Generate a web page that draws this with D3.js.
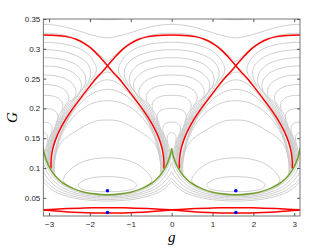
<!DOCTYPE html>
<html>
<head>
<meta charset="utf-8" />
<script src="https://cdn.jsdelivr.net/npm/d3@7/dist/d3.min.js"></script>
<style>
  body { margin: 0; background: #fff; }
  svg .gray { fill: none; stroke: #c9c9c9; stroke-width: 0.9px; }
  svg .red { fill: none; stroke: #ff0000; stroke-width: 1.5px; }
  svg .green { fill: none; stroke: #77a032; stroke-width: 1.6px; }
  svg .dot { fill: #0000ff; }
  svg .tick text { font-family: "Liberation Sans", Arial, sans-serif; font-size: 8px; fill: #262626; }
  svg .tick line { stroke: #555; }
</style>
</head>
<body>
<div id="chart"></div>
<script>
// axis ticks
var gTicks = [-3, -2, -1, 0, 1, 2, 3];
var GTicks = [0.05, 0.1, 0.15, 0.2, 0.25, 0.3, 0.35];

// equilibria (blue points)
var centers = [[-1.571, 0.0618], [1.571, 0.0618], [-1.571, 0.0254], [1.571, 0.0254]];

// half curves read in the quarter g in [-pi/2, 0], the rest is mirrored
var greenHalf = [[-1.571, 0.0550], [-1.3, 0.0562], [-1.0, 0.0595], [-0.75, 0.0650], [-0.5, 0.0740],
  [-0.35, 0.0825], [-0.25, 0.0905], [-0.15, 0.1010], [-0.08, 0.1120], [-0.03, 0.1230], [0, 0.1330]];

var redUpperHalf = [[-1.571, 0.2717], [-1.4, 0.2850], [-1.2, 0.2990], [-1.0, 0.3090], [-0.8, 0.3160],
  [-0.6, 0.3200], [-0.4, 0.3220], [-0.2, 0.3228], [0, 0.3230]];

var redLowerHalf = [[-1.571, 0.2717], [-1.45, 0.2620], [-1.3, 0.2510], [-1.1, 0.2340], [-0.9, 0.2160],
  [-0.7, 0.1975], [-0.55, 0.1820], [-0.42, 0.1660], [-0.32, 0.1510], [-0.25, 0.1370], [-0.21, 0.1240],
  [-0.19, 0.1110], [-0.19, 0.0990]];

var lensUpperHalf = [[-1.571, 0.0334], [-1.2, 0.0332], [-0.9, 0.0327], [-0.6, 0.0320], [-0.3, 0.0310], [0, 0.0299]];
var lensLowerHalf = [[-1.571, 0.0244], [-1.2, 0.0246], [-0.9, 0.0252], [-0.6, 0.0262], [-0.3, 0.0278], [0, 0.0297]];

// gray contours
var topCurveHalf = [[-1.571, 0.3185], [-1.35, 0.3205], [-1.1, 0.3250], [-0.8, 0.3315], [-0.5, 0.3370], [-0.25, 0.3400], [0, 0.3410]];
var topArcHalf = [[-1.571, 0.3487], [-1.35, 0.3493], [-1.15, 0.3505], [-0.9, 0.3530]];
var aboveXHalf = [[-1.571, 0.2790], [-1.45, 0.2855], [-1.3, 0.2945], [-1.1, 0.3065], [-0.9, 0.3140],
  [-0.7, 0.3195], [-0.5, 0.3230], [-0.3, 0.3250], [0, 0.3262]];

var ovalInner = [[-1.571, 0.0855], [-1.3, 0.0847], [-1.1, 0.0820], [-0.95, 0.0780], [-0.86, 0.0720],
  [-0.9, 0.0665], [-1.05, 0.0628], [-1.3, 0.0608], [-1.571, 0.0603]];

var ovalArcs = [
  [[-1.571, 0.117], [-1.2, 0.1150], [-0.9, 0.1085], [-0.68, 0.0985], [-0.53, 0.0870], [-0.49, 0.0790], [-0.56, 0.0718]],
  [[-1.571, 0.1805], [-1.3, 0.1790], [-1.05, 0.1720], [-0.8, 0.1620], [-0.6, 0.1530], [-0.45, 0.1440], [-0.35, 0.1320], [-0.29, 0.1180], [-0.27, 0.1040], [-0.28, 0.0890]],
  [[-1.571, 0.213], [-1.35, 0.2115], [-1.15, 0.2070], [-0.95, 0.1990], [-0.78, 0.1890], [-0.62, 0.1760], [-0.5, 0.1630], [-0.4, 0.1480], [-0.33, 0.1320], [-0.29, 0.1170], [-0.26, 0.1020], [-0.26, 0.0925]],
  [[-1.571, 0.232], [-1.38, 0.2300], [-1.2, 0.2250], [-1.0, 0.2150], [-0.82, 0.2020], [-0.66, 0.1870], [-0.53, 0.1710], [-0.42, 0.1540], [-0.34, 0.1370], [-0.29, 0.1210], [-0.25, 0.1050], [-0.24, 0.0940]],
  [[-1.571, 0.248], [-1.42, 0.2460], [-1.25, 0.2390], [-1.05, 0.2260], [-0.86, 0.2100], [-0.69, 0.1930], [-0.55, 0.1760], [-0.44, 0.1590], [-0.35, 0.1420], [-0.29, 0.1260], [-0.24, 0.1090], [-0.22, 0.0960]],
  [[-1.571, 0.261], [-1.45, 0.2580], [-1.3, 0.2490], [-1.1, 0.2330], [-0.9, 0.2150], [-0.72, 0.1970], [-0.57, 0.1800], [-0.45, 0.1630], [-0.36, 0.1470], [-0.29, 0.1310], [-0.24, 0.1150], [-0.21, 0.1000]]
];

// arches over g = 0, ending on the green curve
var capCurves = [
  [[0, 0.311], [-0.3, 0.3100], [-0.55, 0.3075], [-0.8, 0.3030], [-1.0, 0.2960], [-1.15, 0.2870], [-1.25, 0.2770], [-1.3, 0.2670], [-1.28, 0.2580], [-1.2, 0.2500], [-0.99, 0.23], [-0.79, 0.21], [-0.60, 0.19], [-0.425, 0.17], [-0.295, 0.15], [-0.21, 0.13], [-0.178, 0.115], [-0.165, 0.0995]],
  [[0, 0.2985], [-0.3, 0.2975], [-0.55, 0.2945], [-0.8, 0.2890], [-0.98, 0.2820], [-1.1, 0.2730], [-1.16, 0.2630], [-1.15, 0.2530], [-1.08, 0.2420], [-0.93, 0.23], [-0.75, 0.21], [-0.57, 0.19], [-0.405, 0.17], [-0.278, 0.15], [-0.195, 0.13], [-0.163, 0.115], [-0.15, 0.101]],
  [[0, 0.285], [-0.3, 0.2840], [-0.55, 0.2805], [-0.78, 0.2745], [-0.93, 0.2660], [-1.02, 0.2560], [-1.04, 0.2460], [-0.99, 0.2360], [-0.90, 0.228], [-0.71, 0.21], [-0.54, 0.19], [-0.385, 0.17], [-0.262, 0.15], [-0.182, 0.13], [-0.15, 0.115], [-0.135, 0.1027]],
  [[0, 0.271], [-0.3, 0.2700], [-0.52, 0.2665], [-0.72, 0.2605], [-0.86, 0.2520], [-0.93, 0.2420], [-0.92, 0.2320], [-0.84, 0.2220], [-0.67, 0.21], [-0.51, 0.19], [-0.365, 0.17], [-0.246, 0.15], [-0.168, 0.13], [-0.137, 0.115], [-0.12, 0.1045]],
  [[0, 0.256], [-0.28, 0.2550], [-0.48, 0.2515], [-0.65, 0.2455], [-0.76, 0.2370], [-0.80, 0.2270], [-0.76, 0.2180], [-0.62, 0.21], [-0.48, 0.19], [-0.345, 0.17], [-0.23, 0.15], [-0.155, 0.13], [-0.123, 0.115], [-0.105, 0.1065]],
  [[0, 0.240], [-0.25, 0.2390], [-0.42, 0.2355], [-0.55, 0.2295], [-0.62, 0.2215], [-0.62, 0.2140], [-0.55, 0.2060], [-0.44, 0.19], [-0.32, 0.17], [-0.21, 0.15], [-0.14, 0.13], [-0.11, 0.115], [-0.09, 0.1095]],
  [[0, 0.222], [-0.22, 0.2210], [-0.36, 0.2175], [-0.45, 0.2115], [-0.48, 0.2040], [-0.45, 0.1960], [-0.39, 0.19], [-0.29, 0.17], [-0.19, 0.15], [-0.125, 0.13], [-0.097, 0.115], [-0.075, 0.1128]],
  [[0, 0.200], [-0.18, 0.1990], [-0.29, 0.1955], [-0.35, 0.1895], [-0.36, 0.1820], [-0.34, 0.1760], [-0.29, 0.1680], [-0.22, 0.1580], [-0.16, 0.15], [-0.105, 0.13], [-0.075, 0.118], [-0.06, 0.1162]],
  [[0, 0.177], [-0.12, 0.1760], [-0.19, 0.1725], [-0.22, 0.1665], [-0.2, 0.1585], [-0.15, 0.15], [-0.11, 0.14], [-0.08, 0.13], [-0.055, 0.122], [-0.045, 0.1195]],
  [[0, 0.159], [-0.06, 0.1580], [-0.1, 0.1545], [-0.11, 0.1490], [-0.095, 0.1420], [-0.07, 0.1350], [-0.05, 0.1285], [-0.03, 0.123]]
];

// curves under the green curve, peaking below the cusp
var underCurves = [
  [[-1.571, 0.0535], [-1.3, 0.0544], [-1.0, 0.0573], [-0.75, 0.0622], [-0.5, 0.0705], [-0.35, 0.0780], [-0.25, 0.0850], [-0.15, 0.0945], [-0.08, 0.1040], [-0.03, 0.1150], [0, 0.127]],
  [[-1.571, 0.0515], [-1.3, 0.0524], [-1.0, 0.0548], [-0.75, 0.0590], [-0.5, 0.0660], [-0.35, 0.0725], [-0.25, 0.0790], [-0.15, 0.0870], [-0.08, 0.0950], [-0.03, 0.1030], [0, 0.110]],
  [[-1.571, 0.0495], [-1.3, 0.0503], [-1.0, 0.0524], [-0.75, 0.0560], [-0.5, 0.0618], [-0.35, 0.0672], [-0.25, 0.0725], [-0.15, 0.0790], [-0.08, 0.0850], [-0.03, 0.0900], [0, 0.094]],
  [[-1.571, 0.0470], [-1.3, 0.0477], [-1.0, 0.0495], [-0.75, 0.0527], [-0.5, 0.0577], [-0.35, 0.0622], [-0.25, 0.0665], [-0.15, 0.0720], [-0.08, 0.0765], [-0.03, 0.0805], [0, 0.083]],
  [[-1.571, 0.0445], [-1.3, 0.0452], [-1.0, 0.0468], [-0.75, 0.0497], [-0.5, 0.0543], [-0.35, 0.0583], [-0.25, 0.0620], [-0.15, 0.0670], [-0.08, 0.0715], [-0.03, 0.0750], [0, 0.077]]
];

var width = 332, height = 249;
var PI = Math.PI;

var x = d3.scaleLinear().domain([-PI, PI]).range([43.3, 300]);
var y = d3.scaleLinear().domain([0.0195, 0.35]).range([216, 19]);

// helpers to mirror / shift the half curves
function mirror(pts, c) { return pts.map(function(p) { return [2 * c - p[0], p[1]]; }); }
function shift(pts, d) { return pts.map(function(p) { return [p[0] + d, p[1]]; }); }
function symFirst(h) { return mirror(h, h[0][0]).reverse().concat(h.slice(1)); }
function symLast(h) { return h.concat(mirror(h, h[h.length - 1][0]).reverse().slice(1)); }
function periodic(h) {
  var one = symFirst(h), out = [];
  [-1, 0, 1, 2].forEach(function(k) {
    var s = shift(one, k * PI);
    out = out.length ? out.concat(s.slice(1)) : s;
  });
  return out;
}

var line = d3.line()
  .x(function(d) { return x(d[0]); })
  .y(function(d) { return y(d[1]); })
  .curve(d3.curveCatmullRom.alpha(0.5));
var closedLine = d3.line()
  .x(function(d) { return x(d[0]); })
  .y(function(d) { return y(d[1]); })
  .curve(d3.curveCatmullRomClosed.alpha(0.5));

var svg = d3.select("#chart").append("svg")
  .attr("width", width)
  .attr("height", height);

svg.append("defs").append("clipPath").attr("id", "clip")
  .append("rect")
  .attr("x", x(-PI)).attr("y", y(0.35))
  .attr("width", x(PI) - x(-PI)).attr("height", y(0.0195) - y(0.35));

var plot = svg.append("g").attr("clip-path", "url(#clip)");

// gray contours
var grays = [];
grays.push(periodic(topCurveHalf));
grays.push(periodic(aboveXHalf));
underCurves.forEach(function(h) { grays.push(periodic(h)); });
[0, PI].forEach(function(d) {
  grays.push(shift(symFirst(topArcHalf), d));
  ovalArcs.forEach(function(h) { grays.push(shift(symFirst(h), d)); });
});
[-PI, 0, PI].forEach(function(d) {
  capCurves.forEach(function(h) { grays.push(shift(symFirst(h), d)); });
});

plot.selectAll("path.gray")
  .data(grays)
  .enter().append("path")
  .attr("class", "gray")
  .attr("d", line);

plot.selectAll("path.oval")
  .data([0, PI])
  .enter().append("path")
  .attr("class", "gray")
  .attr("d", function(d) {
    var pts = shift(symFirst(ovalInner), d);
    return closedLine(pts.slice(0, pts.length - 1));
  });

// red separatrices
var reds = [];
[-PI, 0, PI].forEach(function(d) { reds.push(shift(symLast(redUpperHalf), d)); });
reds.push(redLowerHalf, mirror(redLowerHalf, -PI / 2), mirror(redLowerHalf, 0), shift(redLowerHalf, PI));
[0, PI].forEach(function(d) {
  reds.push(shift(symFirst(lensUpperHalf), d));
  reds.push(shift(symFirst(lensLowerHalf), d));
});

plot.selectAll("path.red")
  .data(reds)
  .enter().append("path")
  .attr("class", "red")
  .attr("d", line);

// green boundary
plot.selectAll("path.green")
  .data([0, PI])
  .enter().append("path")
  .attr("class", "green")
  .attr("d", function(d) { return line(shift(symFirst(greenHalf), d)); });

plot.selectAll("circle")
  .data(centers)
  .enter().append("circle")
  .attr("class", "dot")
  .attr("cx", function(d) { return x(d[0]); })
  .attr("cy", function(d) { return y(d[1]); })
  .attr("r", 1.8);

// axes with inside ticks on all four sides
svg.append("g")
  .attr("transform", "translate(0," + y(0.0195) + ")")
  .call(d3.axisBottom(x).tickValues(gTicks).tickSize(-3).tickPadding(5).tickFormat(d3.format("d")))
  .call(function(g) { g.select(".domain").remove(); });
svg.append("g")
  .attr("transform", "translate(0," + y(0.35) + ")")
  .call(d3.axisTop(x).tickValues(gTicks).tickSize(-3).tickFormat(""))
  .call(function(g) { g.select(".domain").remove(); });
svg.append("g")
  .attr("transform", "translate(" + x(-PI) + ",0)")
  .call(d3.axisLeft(y).tickValues(GTicks).tickSize(-3).tickPadding(3).tickFormat(d3.format("~g")))
  .call(function(g) { g.select(".domain").remove(); });
svg.append("g")
  .attr("transform", "translate(" + x(PI) + ",0)")
  .call(d3.axisRight(y).tickValues(GTicks).tickSize(-3).tickFormat(""))
  .call(function(g) { g.select(".domain").remove(); });

svg.append("rect")
  .attr("x", x(-PI)).attr("y", y(0.35))
  .attr("width", x(PI) - x(-PI)).attr("height", y(0.0195) - y(0.35))
  .attr("fill", "none").attr("stroke", "#555").attr("stroke-width", 0.8);

svg.append("text")
  .attr("x", (x(-PI) + x(PI)) / 2).attr("y", 242)
  .attr("text-anchor", "middle")
  .style("font-family", "'Liberation Serif', 'DejaVu Serif', serif")
  .style("font-style", "italic")
  .style("font-size", "15px")
  .text("g");

svg.append("text")
  .attr("transform", "translate(17," + ((y(0.35) + y(0.0195)) / 2) + ") rotate(-90)")
  .attr("text-anchor", "middle")
  .style("font-family", "'Liberation Serif', 'DejaVu Serif', serif")
  .style("font-style", "italic")
  .style("font-size", "15px")
  .text("G");
</script>
</body>
</html>
